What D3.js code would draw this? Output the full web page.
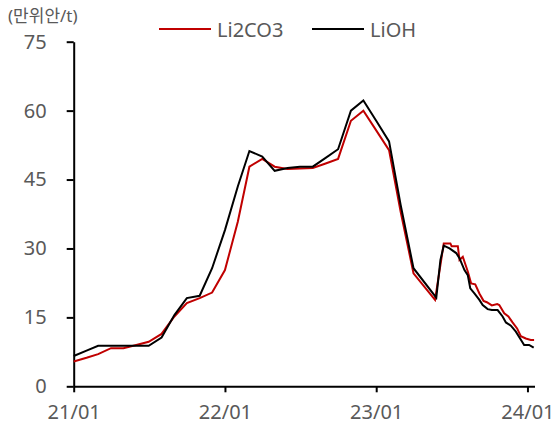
<!DOCTYPE html>
<html><head><meta charset="utf-8">
<script src="https://cdn.jsdelivr.net/npm/d3@7"></script>
<style>
html,body{margin:0;padding:0;background:#fff;}
svg{display:block;font-family:"Noto Sans","Noto Sans CJK KR",sans-serif;}
</style></head>
<body><svg id="c" width="560" height="430"></svg>
<script>
// ---- data ----
const li2co3Dates = ["2021-01-01","2021-02-01","2021-03-01","2021-04-01","2021-05-01","2021-06-01","2021-07-01","2021-08-01","2021-09-01","2021-10-01","2021-11-01","2021-12-01",
  "2022-01-01","2022-02-01","2022-03-01","2022-04-01","2022-05-01","2022-06-01","2022-07-01","2022-08-01","2022-09-01","2022-10-01","2022-11-01","2022-12-01",
  "2023-01-01","2023-02-01","2023-03-01","2023-04-01","2023-05-23","2023-06-13","2023-06-29","2023-07-02","2023-07-17","2023-07-21","2023-07-29",
  "2023-08-10","2023-08-18","2023-08-28","2023-09-07","2023-09-17","2023-09-25","2023-10-07","2023-10-20","2023-10-25","2023-11-06","2023-11-16",
  "2023-11-26","2023-12-07","2023-12-16","2023-12-28","2024-01-09","2024-01-17"];
const li2co3Values = [5.4,6.2,7.0,8.3,8.3,9.0,9.7,11.4,15.2,18.1,19.2,20.4,
  25.3,35.8,47.8,49.5,47.8,47.3,47.4,47.5,48.5,49.5,57.8,60.0,
  55.7,51.4,38.0,24.6,18.8,31.1,31.1,30.5,30.5,27.5,28.2,
  25.0,22.4,22.2,20.2,18.6,18.3,17.6,17.9,17.7,15.9,15.2,
  13.9,12.6,10.9,10.4,10.1,10.1];
const liohDates = ["2021-01-01","2021-02-01","2021-03-01","2021-04-01","2021-05-01","2021-06-01","2021-07-01","2021-08-01","2021-09-01","2021-10-01","2021-11-01","2021-12-01",
  "2022-01-01","2022-02-01","2022-03-01","2022-04-01","2022-05-01","2022-06-01","2022-07-01","2022-08-01","2022-09-01","2022-10-01","2022-11-01","2022-12-01",
  "2023-01-01","2023-02-01","2023-03-01","2023-04-01","2023-05-26","2023-06-05","2023-06-13","2023-06-27","2023-07-13","2023-07-21","2023-08-02",
  "2023-08-10","2023-08-16","2023-08-26","2023-09-07","2023-09-15","2023-09-27","2023-10-07","2023-10-21","2023-11-02","2023-11-10","2023-11-22",
  "2023-12-04","2023-12-15","2023-12-24","2024-01-05","2024-01-16"];
const liohValues = [6.6,7.75,8.8,8.8,8.8,8.8,8.8,10.6,15.5,19.2,19.7,25.7,
  34.0,43.5,51.2,50.0,46.9,47.5,47.8,47.8,49.7,51.6,60.0,62.2,
  57.8,53.3,39.5,25.7,19.3,27.5,30.6,30.0,29.0,27.9,25.3,
  24.2,21.3,20.2,18.8,17.7,16.8,16.6,16.6,15.2,13.9,13.2,
  11.9,10.3,9.0,9.0,8.4];
const seriesNames = ["Li2CO3","LiOH"];
const seriesColors = ["#c00000","#000000"];
const yTicks = [0,15,30,45,60,75];
const xTickDates = ["2021-01-01","2022-01-01","2023-01-01","2024-01-01"];
const unitLabel = "(만위안/t)";

// ---- chart ----
const parse = d3.timeParse("%Y-%m-%d");
const svg = d3.select("#c");
const x = d3.scaleTime().domain([parse("2021-01-01"), parse("2024-01-18")]).range([73.7, 534.5]);
const y = d3.scaleLinear().domain([0,75]).range([386.3, 41.7]);
const txt = "#595959";

const yAxis = svg.append("g").attr("transform","translate(73.7,0)")
  .call(d3.axisLeft(y).tickValues(yTicks).tickSize(7).tickSizeOuter(0).tickPadding(20));
const xAxis = svg.append("g").attr("transform","translate(0,386.3)")
  .call(d3.axisBottom(x).tickValues(xTickDates.map(parse)).tickFormat(d3.timeFormat("%y/%m")).tickSize(6).tickSizeOuter(0).tickPadding(13));
[yAxis,xAxis].forEach(g=>{
  g.select(".domain").attr("stroke","#000").attr("stroke-width",2);
  g.selectAll(".tick line").attr("stroke","#000").attr("stroke-width",2);
  g.selectAll(".tick text").attr("fill",txt).style("font-size","20px").style("font-family",'"Noto Sans","Noto Sans CJK KR",sans-serif');
});

const line = d3.line().x(d=>x(d[0])).y(d=>y(d[1]));
const series = [
  li2co3Dates.map((d,i)=>[parse(d), li2co3Values[i]]),
  liohDates.map((d,i)=>[parse(d), liohValues[i]])
];
series.forEach((s,i)=>{
  svg.append("path").datum(s).attr("d",line).attr("fill","none")
    .attr("stroke",seriesColors[i]).attr("stroke-width",2).attr("stroke-linejoin","miter");
});

// unit label
svg.append("text").attr("x",8).attr("y",22).attr("fill",txt).style("font-size","17px").text(unitLabel);

// legend
const legX = [159, 312];
seriesNames.forEach((n,i)=>{
  svg.append("line").attr("x1",legX[i]).attr("x2",legX[i]+52).attr("y1",29).attr("y2",29)
    .attr("stroke",seriesColors[i]).attr("stroke-width",2);
  svg.append("text").attr("x",legX[i]+58).attr("y",36.5).attr("fill",txt).style("font-size","20px").text(n);
});
</script></body></html>
